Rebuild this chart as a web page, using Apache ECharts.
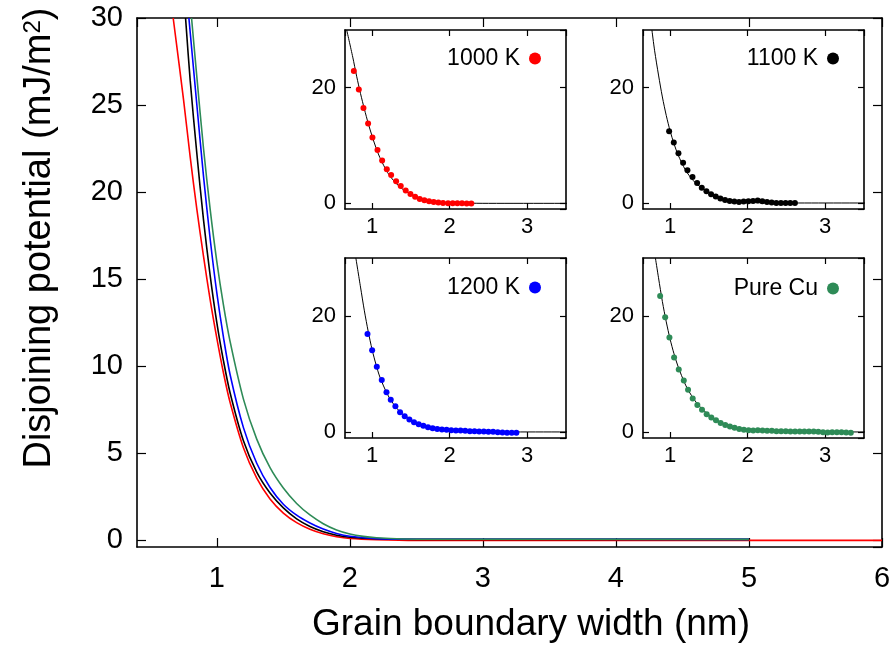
<!DOCTYPE html>
<html><head><meta charset="utf-8">
<script src="https://cdn.jsdelivr.net/npm/echarts@6/dist/echarts.min.js"></script>
<style>html,body{margin:0;padding:0;background:#fff}#c{width:895px;height:651px}</style>
</head><body><div id="c"></div>
<script>
// ---- main panel: fitted disjoining potential curves ----
const redX   = [0.672,0.75,0.80,0.85,0.90,0.95,1.00,1.05,1.10,1.20,1.30,1.40,1.50,1.60,1.70,1.80,1.90,2.00,2.20,2.50,6.00];
const redY   = [30,25.3,22.0,19.0,16.3,13.8,11.6,9.6,7.9,5.3,3.56,2.36,1.55,1.0,0.62,0.36,0.19,0.09,0.02,-0.02,-0.02];
const blackX = [0.765,0.80,0.85,0.90,0.95,1.00,1.05,1.10,1.20,1.30,1.40,1.50,1.60,1.70,1.80,1.90,2.00,2.20,2.50,5.00];
const blackY = [30,26.4,22.2,18.4,15.2,12.5,10.3,8.45,5.7,3.9,2.7,1.85,1.22,0.78,0.48,0.28,0.16,0.07,0.04,0.04];
const blueX  = [0.79,0.85,0.90,0.95,1.00,1.05,1.10,1.20,1.30,1.40,1.50,1.60,1.70,1.80,1.90,2.00,2.20,2.50,5.00];
const blueY  = [30,25.0,20.9,17.3,14.2,11.65,9.5,6.46,4.41,3.02,2.06,1.43,0.98,0.63,0.38,0.22,0.08,0.045,0.04];
const greenX = [0.81,0.85,0.90,0.95,1.00,1.05,1.10,1.20,1.30,1.40,1.50,1.60,1.70,1.80,1.90,2.00,2.10,2.20,2.40,2.70,5.00];
const greenY = [30,26.6,22.5,19.0,16.0,13.5,11.4,8.1,5.8,4.16,2.99,2.1,1.44,0.94,0.58,0.35,0.21,0.13,0.06,0.045,0.04];

// ---- inset data points ----
const k1000X = [0.764,0.828,0.888,0.948,1.004,1.069,1.129,1.189,1.245,1.309,1.369,1.433,1.494,1.554,1.614,1.674,1.734,1.794,1.854,1.914,1.979,2.039,2.099,2.159,2.219,2.279];
const k1000Y = [22.9,19.7,16.5,13.8,11.4,9.2,7.4,5.9,4.9,3.8,3.0,2.2,1.6,1.1,0.75,0.52,0.35,0.23,0.12,0.06,0,0,0,0,-0.06,-0.06];
const k1100X = [0.987,1.047,1.107,1.167,1.223,1.288,1.348,1.408,1.468,1.528,1.588,1.648,1.708,1.768,1.828,1.888,1.948,2.009,2.069,2.129,2.189,2.249,2.309,2.369,2.429,2.489,2.549,2.609];
const k1100Y = [12.45,10.5,8.65,7.03,5.7,4.55,3.5,2.7,2.07,1.56,1.15,0.81,0.58,0.4,0.29,0.23,0.29,0.35,0.4,0.46,0.35,0.23,0.12,0.06,0.06,0.06,0.06,0.06];
const k1200X = [0.94,1.00,1.06,1.124,1.185,1.24,1.30,1.36,1.42,1.48,1.54,1.60,1.66,1.72,1.78,1.84,1.90,1.96,2.02,2.08,2.14,2.20,2.26,2.32,2.38,2.44,2.50,2.56,2.62,2.68,2.74,2.80,2.86];
const k1200Y = [16.9,14.1,11.26,8.97,6.9,5.57,4.48,3.45,2.76,2.18,1.72,1.38,1.09,0.86,0.69,0.57,0.46,0.40,0.34,0.29,0.29,0.23,0.17,0.17,0.11,0.11,0.06,0.06,0,-0.06,-0.11,-0.11,-0.11];
const cuX = [0.871,0.936,0.991,1.051,1.111,1.176,1.231,1.291,1.351,1.411,1.471,1.531,1.591,1.651,1.711,1.771,1.831,1.891,1.951,2.011,2.071,2.131,2.191,2.251,2.311,2.371,2.431,2.491,2.551,2.611,2.671,2.731,2.791,2.851,2.911,2.971,3.031,3.09,3.15,3.21,3.27,3.33];
const cuY = [23.45,19.8,16.3,12.87,10.8,8.9,7.3,5.8,4.7,3.85,3.1,2.53,2.07,1.6,1.26,0.98,0.75,0.57,0.4,0.34,0.29,0.34,0.29,0.23,0.23,0.17,0.17,0.17,0.11,0.11,0.11,0.11,0.11,0.11,0.06,0,-0.06,0,0,0,-0.06,-0.11];

// ---- axis ticks / labels ----
const mainXTicks = [1,2,3,4,5,6];
const mainYTicks = [0,5,10,15,20,25,30];
const insetXTicks = [1,2,3];
const insetYTicks = [0,20];
const labels = ['1000 K','1100 K','1200 K','Pure Cu'];

const FONT = 'Liberation Sans';
const zip = (xs, ys) => xs.map((x, i) => [x, ys[i]]);
const COLORS = ['#ff0000', '#000000', '#0000ff', '#2e8b57'];

const grids = [
  {left:137, top:18, width:745, height:529},
  {left:345, top:30, width:221, height:179},
  {left:643, top:30, width:221, height:179},
  {left:345, top:258, width:221, height:180},
  {left:643, top:258, width:221, height:180}
];

const xAxes = [], yAxes = [];
function addAxes(g, xr, xi, yr, yi, fs, tl, mx, my) {
  const line = {show:true, onZero:false, lineStyle:{color:'#000', width:1.6}};
  const tick = {show:true, inside:true, length:tl, lineStyle:{color:'#000', width:1.2}};
  const base = {gridIndex:g, type:'value', splitLine:{show:false}, axisLine:line, axisTick:tick};
  xAxes.push(Object.assign({}, base, {position:'bottom', min:xr[0], max:xr[1], minInterval:xi, maxInterval:xi, splitNumber:5,
    axisLabel:{show:true, fontSize:fs, fontFamily:FONT, color:'#000', margin:mx, showMinLabel:false, showMaxLabel:g===0}}));
  xAxes.push(Object.assign({}, base, {position:'top', min:xr[0], max:xr[1], minInterval:xi, maxInterval:xi, splitNumber:5,
    axisLabel:{show:false}}));
  yAxes.push(Object.assign({}, base, {position:'left', min:yr[0], max:yr[1], minInterval:yi, maxInterval:yi, splitNumber:6,
    axisLabel:{show:true, fontSize:fs, fontFamily:FONT, color:'#000', margin:my, showMinLabel:false, showMaxLabel:g===0}}));
  yAxes.push(Object.assign({}, base, {position:'right', min:yr[0], max:yr[1], minInterval:yi, maxInterval:yi, splitNumber:6,
    axisLabel:{show:false}}));
}
addAxes(0, [0.4, 6], mainXTicks[1]-mainXTicks[0], [-0.4, 30], mainYTicks[1]-mainYTicks[0], 29, 9, 17, 14);
for (let g = 1; g <= 4; g++) addAxes(g, [0.65, 3.5], insetXTicks[1]-insetXTicks[0], [-1, 30], insetYTicks[1]-insetYTicks[0], 22, 6, 7, 9);

const series = [];
const mainSets = [[redX,redY],[blackX,blackY],[blueX,blueY],[greenX,greenY]];
mainSets.forEach((s, i) => {
  series.push({name:'fit-main-'+i, type:'line', xAxisIndex:0, yAxisIndex:0, data:zip(s[0], s[1]),
    smooth:0.3, showSymbol:false, symbol:'none', clip:true,
    lineStyle:{color:COLORS[i], width:1.6}, z:2+i});
});
const insetSets = [[k1000X,k1000Y],[k1100X,k1100Y],[k1200X,k1200Y],[cuX,cuY]];
insetSets.forEach((s, i) => {
  const g = i + 1;
  series.push({name:'fit-inset-'+i, type:'line', xAxisIndex:2*g, yAxisIndex:2*g, data:zip(mainSets[i][0], mainSets[i][1]),
    smooth:0.3, showSymbol:false, symbol:'none', clip:true,
    lineStyle:{color:'#000', width:1}, z:2});
  series.push({name:labels[i], type:'scatter', xAxisIndex:2*g, yAxisIndex:2*g, data:zip(s[0], s[1]),
    symbol:'circle', symbolSize:6, itemStyle:{color:COLORS[i], opacity:1}, z:3});
});

const legendPos = [{right:354, top:47},{right:56, top:47},{right:354, top:276},{right:56, top:277}];
const legends = labels.map((l, i) => Object.assign({data:[l], orient:'horizontal', align:'right', icon:'circle',
  itemWidth:12, itemHeight:12, padding:0, selectedMode:false,
  textStyle:{fontSize:23, fontFamily:FONT, color:'#000', padding:[0,4,0,0]}}, legendPos[i]));

const option = {
  animation:false,
  backgroundColor:'#fff',
  textStyle:{fontFamily:FONT},
  grid: grids,
  xAxis: xAxes,
  yAxis: yAxes,
  legend: legends,
  series: series,
  graphic: [
    {type:'text', x:531, y:625, style:{text:'Grain boundary width (nm)', fontSize:37, fontFamily:FONT, fill:'#000', align:'center', verticalAlign:'middle'}},
    {type:'text', x:40, y:238, rotation:Math.PI/2, style:{text:'{a|Disjoining potential (mJ/m}{s|2}{a|)}', align:'center', verticalAlign:'middle', fill:'#000',
      rich:{a:{fontSize:38, fontFamily:FONT, fill:'#000'}, s:{fontSize:24, fontFamily:FONT, fill:'#000', verticalAlign:'top'}}}}
  ]
};
const chart = echarts.init(document.getElementById('c'), null, {renderer:'canvas'});
chart.setOption(option);
</script></body></html>
